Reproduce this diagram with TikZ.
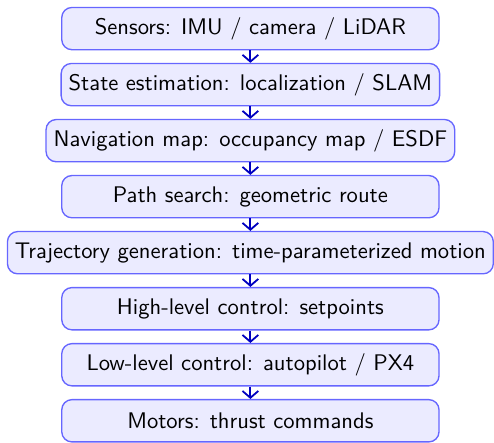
\documentclass[tikz,border=0pt]{standalone}
\usepackage{tikz}
\usetikzlibrary{positioning,arrows.meta,calc}

\begin{document}
\begin{tikzpicture}[-{Straight Barb[length=3pt,width=7pt]},thick,node distance=5.5pt]
  \tikzstyle{stage}=[rectangle,rounded corners=4.5pt,draw=blue!60,fill=blue!8,semithick,
    font=\sffamily,minimum width=167pt,minimum height=18.7pt,align=center]
  \tikzstyle{flow}=[draw=blue!75!black,thick]

  \node[stage] (sensors) {Sensors: IMU / camera / LiDAR};
  \node[stage,below=of sensors] (state) {State estimation: localization / SLAM};
  \node[stage,below=of state] (navmap) {Navigation map: occupancy map / ESDF};
  \node[stage,below=of navmap] (path) {Path search: geometric route};
  \node[stage,below=of path] (traj) {Trajectory generation: time-parameterized motion};
  \node[stage,below=of traj] (high) {High-level control: setpoints};
  \node[stage,below=of high] (low) {Low-level control: autopilot / PX4};
  \node[stage,below=of low] (motors) {Motors: thrust commands};

  \draw[flow] (sensors) -- (state);
  \draw[flow] (state) -- (navmap);
  \draw[flow] (navmap) -- (path);
  \draw[flow] (path) -- (traj);
  \draw[flow] (traj) -- (high);
  \draw[flow] (high) -- (low);
  \draw[flow] (low) -- (motors);

  % margins as in the original
  \path[use as bounding box] ($(traj.west |- sensors.north)+(-3pt,3pt)$)
    rectangle (traj.east |- motors.south);

\end{tikzpicture}
\end{document}
